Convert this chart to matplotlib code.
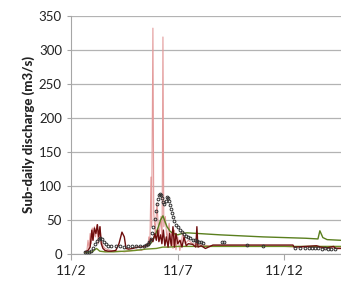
import matplotlib
matplotlib.use('Agg')
import matplotlib.pyplot as plt
import numpy as np

plt.rcParams['font.family'] = ['Lato', 'DejaVu Sans']

# time in days since 11/2
obs_t = [0.66, 0.75, 0.85, 0.95, 1.05, 1.15, 1.22, 1.30, 1.38, 1.45, 1.55, 1.65, 1.75, 1.90,
         2.10, 2.30, 2.48, 2.67, 2.86, 3.04, 3.23, 3.42, 3.51, 3.60, 3.68, 3.75, 3.80, 3.86,
         3.92, 3.98, 4.03, 4.08, 4.13, 4.18, 4.23, 4.28, 4.33, 4.38, 4.43, 4.48, 4.53, 4.58,
         4.63, 4.68, 4.73, 4.78, 4.85, 4.92, 5.00, 5.10, 5.20, 5.30, 5.40, 5.50, 5.60, 5.70,
         5.80, 5.90, 6.00, 6.10, 6.20, 7.07, 7.15, 8.24, 8.99, 10.50, 10.75, 10.96, 11.15,
         11.29, 11.45, 11.57, 11.75, 11.90, 12.05, 12.20, 12.37]
obs_v = [3, 3, 3, 4, 8, 14, 19, 22, 23, 22, 18, 14, 12, 12,
         11, 11, 10, 12, 12, 11, 12, 12, 13, 14, 17, 22, 30, 40,
         52, 63, 73, 81, 86, 88, 87, 82, 76, 74, 78, 83, 82, 78,
         72, 66, 60, 54, 48, 43, 39, 35, 32, 29, 27, 25, 23, 21,
         20, 19, 18, 17, 16, 18, 17, 13, 12, 9, 8, 9, 8,
         8, 8, 8, 7, 8, 7, 7, 7]

light_t = [0.66, 0.75, 0.80, 0.85, 0.90, 0.95, 1.00, 1.05, 1.10, 1.15, 1.22, 1.28, 1.36, 1.42,
           1.50, 1.60, 1.75, 1.90, 2.10, 2.30, 2.50, 2.70, 2.90, 3.10, 3.30, 3.45, 3.55, 3.60,
           3.65, 3.70, 3.75, 3.78, 3.84, 3.88, 3.95, 4.03, 4.12, 4.22, 4.27,
           4.31, 4.35, 4.42, 4.50, 4.60, 4.65, 4.70, 4.78, 4.85, 4.92, 5.00, 5.10,
           5.25, 5.35, 5.50, 5.70, 5.90, 6.10, 6.50, 7.00, 8.00, 9.00, 10.0, 10.5, 11.0, 11.5,
           12.0, 12.65]
light_v = [3, 5, 20, 8, 30, 15, 38, 20, 40, 25, 43, 15, 40, 20,
           12, 8, 6, 5, 4, 4, 3, 4, 5, 6, 5, 8, 15, 10,
           25, 15, 113, 40, 332, 60, 30, 75, 25, 55, 20,
           319, 40, 55, 20, 45, 15, 30, 8, 35, 6, 25, 5,
           32, 15, 20, 15, 14, 13, 12, 12, 11, 11, 11, 10, 10, 10,
           9, 9]

dark_t = [0.66, 0.80, 0.90, 0.98, 1.03, 1.10, 1.17, 1.24, 1.30, 1.36, 1.42, 1.50, 1.60, 1.75,
          1.90, 2.10, 2.25, 2.39, 2.50, 2.58, 2.70, 2.90, 3.10, 3.30, 3.50, 3.65, 3.75, 3.84,
          3.93, 4.00, 4.07, 4.12, 4.20, 4.26, 4.33, 4.40, 4.47, 4.55, 4.62, 4.70, 4.78, 4.85,
          4.92, 5.00, 5.11, 5.20, 5.30, 5.40, 5.50, 5.70, 5.85, 5.90, 5.95, 6.10, 6.30, 6.65,
          7.0, 8.0, 9.0, 10.0, 10.40, 10.45, 11.0, 11.5, 11.7, 12.0, 12.3, 12.4, 12.65]
dark_v = [3, 5, 10, 35, 20, 38, 30, 43, 25, 40, 15, 8, 5, 4,
          4, 5, 15, 32, 25, 8, 7, 8, 10, 10, 12, 15, 22, 18,
          30, 20, 35, 18, 28, 15, 35, 12, 25, 10, 30, 12, 40, 10,
          30, 15, 20, 10, 25, 12, 15, 14, 10, 40, 10, 12, 8, 13,
          13, 13, 13, 13, 13, 10, 11, 12, 10, 9, 11, 8, 8]

green_hi_t = [3.65, 3.80, 3.95, 4.10, 4.20, 4.31, 4.40, 4.50, 4.65, 4.80, 5.00, 5.20, 5.43,
              7.0, 9.0, 11.0, 11.57, 11.66, 11.80, 12.0, 12.65]
green_hi_v = [12, 18, 28, 40, 50, 56, 48, 40, 33, 30, 28, 30, 31,
              28, 25, 23, 22, 34, 24, 21, 20]

green_lo_t = [0.66, 1.0, 1.2, 1.35, 1.6, 2.0, 2.5, 3.0, 3.5, 4.0, 4.3, 4.6, 5.0, 5.5,
              6.0, 7.0, 8.0, 9.0, 10.0, 11.0, 12.0, 12.65]
green_lo_v = [2, 3, 8, 4, 3, 3, 4, 5, 7, 8, 10, 10, 11, 11,
              11, 11, 11, 11, 11, 11, 11, 11]

tick_pos = [0, 5, 10]
tick_lab = ['11/2', '11/7', '11/12']

fig = plt.figure(figsize=(3.41, 2.84), dpi=100)
ax = fig.add_axes([0.208, 0.106, 0.792, 0.838])

ax.plot(light_t, light_v, color='#E39A9A', lw=0.8, zorder=2)
ax.plot(green_lo_t, green_lo_v, color='#6B8E23', lw=1.0, zorder=3)
ax.plot(green_hi_t, green_hi_v, color='#5A7F1E', lw=1.0, zorder=3)
ax.plot(dark_t, dark_v, color='#6E0E0E', lw=1.0, zorder=4)
ax.plot(obs_t, obs_v, ls='none', marker='o', ms=2.0, mfc='none', mec='#333333', mew=0.7, zorder=5)

ax.set_xlim(0, 12.65)
ax.set_ylim(0, 350)
ax.set_yticks(np.arange(0, 351, 50))
ax.set_xticks(tick_pos)
ax.set_xticklabels(tick_lab)
ax.grid(axis='y', color='#B3B3B3', lw=0.9)
ax.set_axisbelow(True)
for s in ['top', 'right']:
    ax.spines[s].set_visible(False)
for s in ['left', 'bottom']:
    ax.spines[s].set_color('#A6A6A6')
ax.tick_params(axis='y', labelsize=9.5, colors='#A6A6A6', labelcolor='#222222', length=3)
ax.tick_params(axis='x', labelsize=10, colors='#A6A6A6', labelcolor='#222222', length=4)
ax.set_ylabel('Sub-daily discharge (m3/s)', fontsize=9.5, fontweight='black', color='#222222',
              labelpad=3)

fig.savefig('out.png', dpi=100)
